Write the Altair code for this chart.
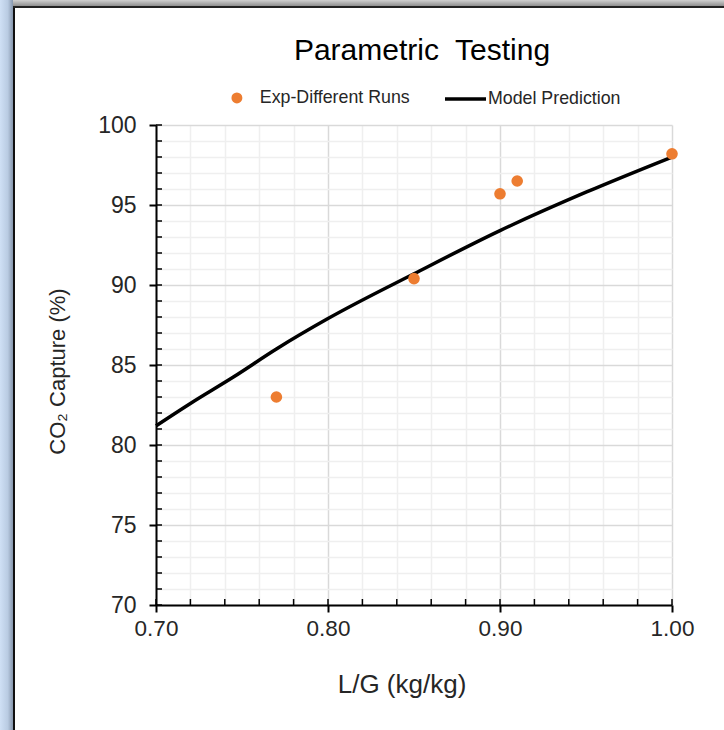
import altair as alt
import pandas as pd

# ---- data ----
exp_lg = [0.77, 0.85, 0.90, 0.91, 1.00]
exp_capture = [83.0, 90.4, 95.7, 96.5, 98.2]

model_lg = [0.70, 0.72, 0.745, 0.77, 0.80, 0.85, 0.90, 0.95, 1.00]
model_capture = [81.2, 82.6, 84.25, 86.0, 87.9, 90.7, 93.4, 95.8, 98.0]

x_ticks = [round(0.70 + 0.02 * i, 2) for i in range(16)]
y_ticks = list(range(70, 101))

exp_df = pd.DataFrame({"lg": exp_lg, "cap": exp_capture, "series": "Exp-Different Runs"})
model_df = pd.DataFrame({"lg": model_lg, "cap": model_capture, "series": "Model Prediction"})
xt_df = pd.DataFrame({"lg": x_ticks})
yt_df = pd.DataFrame({"cap": y_ticks})

FONT = "Liberation Sans"
W, H = 516, 480

xscale = alt.Scale(domain=[0.70, 1.00], nice=False, zero=False)
yscale = alt.Scale(domain=[70, 100], nice=False, zero=False)

x_major = "round(datum.value*100) % 10 === 0"
y_major = "datum.value % 5 === 0"

x_axis = alt.Axis(
    values=x_ticks, format=".2f",
    labelExpr=f"{x_major} ? datum.label : ''",
    labelOverlap=False, labelFlush=False, labelFontSize=22.5, labelFont=FONT,
    labelColor="#262626", labelPadding=5,
    grid=True,
    gridColor={"condition": {"test": x_major, "value": "#d9d9d9"}, "value": "#efefef"},
    gridWidth=1.5,
    tickColor={"condition": {"test": x_major, "value": "black"}, "value": "transparent"},
    tickSize=7, tickWidth=2,
    domainColor="black", domainWidth=2,
    title="L/G (kg/kg)", titleFontSize=26, titleFont=FONT, titleFontWeight="normal",
    titleColor="#262626",
    titleX=245.5, titleY=79, titleBaseline="middle",
)
y_axis = alt.Axis(
    values=y_ticks,
    labelExpr=f"{y_major} ? datum.label : ''",
    labelOverlap=False, labelFlush=False, labelFontSize=23, labelFont=FONT,
    labelColor="#262626", labelPadding=13,
    grid=True,
    gridColor={"condition": {"test": y_major, "value": "#d9d9d9"}, "value": "#efefef"},
    gridWidth=1.5,
    tickColor={"condition": {"test": y_major, "value": "black"}, "value": "transparent"},
    tickSize=7, tickWidth=2,
    domainColor="black", domainWidth=2,
    title="CO₂ Capture (%)", titleFontSize=22, titleFont=FONT, titleFontWeight="normal",
    titleColor="#262626",
    titleX=-99, titleY=246, titleBaseline="middle",
)

def X():
    return alt.X("lg:Q", scale=xscale, axis=x_axis)

def Y():
    return alt.Y("cap:Q", scale=yscale, axis=y_axis)

model_line = alt.Chart(model_df).mark_line(strokeWidth=3.5, interpolate="monotone").encode(
    x=X(), y=Y(),
    color=alt.Color("series:N",
                    scale=alt.Scale(domain=["Model Prediction"], range=["black"]),
                    legend=alt.Legend(title=None, orient="none", legendX=287, legendY=-48.5,
                                      symbolType="stroke", symbolSize=1681,
                                      symbolStrokeWidth=3.5, labelOffset=0,
                                      labelFontSize=17.8, labelFont=FONT,
                                      labelColor="#262626", padding=0)),
)

exp_pts = alt.Chart(exp_df).mark_circle(size=135, opacity=1).encode(
    x=X(), y=Y(),
    color=alt.Color("series:N",
                    scale=alt.Scale(domain=["Exp-Different Runs"], range=["#ED7D31"]),
                    legend=alt.Legend(title=None, orient="none", legendX=72, legendY=-36,
                                      symbolType="circle", symbolSize=120,
                                      labelOffset=14, labelFontSize=17.8, labelFont=FONT,
                                      labelColor="#262626", padding=0)),
)

# inside ticks
ytick_in = alt.Chart(yt_df).mark_rule(color="black", strokeWidth=1.5).encode(
    y=alt.Y("cap:Q", scale=yscale, axis=y_axis), x=alt.value(0), x2=alt.value(6)
)
xtick_in = alt.Chart(xt_df).mark_rule(color="black", strokeWidth=1.5).encode(
    x=alt.X("lg:Q", scale=xscale, axis=x_axis), y=alt.value(H), y2=alt.value(H - 6)
)

# window frame decoration
one = pd.DataFrame({"a": [0]})
left_strip = alt.Chart(one).mark_rect(
    color=alt.LinearGradient(gradient="linear", x1=0, x2=1, y1=0, y2=0,
                             stops=[alt.GradientStop(color="#cfe0f5", offset=0),
                                    alt.GradientStop(color="#b9cbe2", offset=0.6),
                                    alt.GradientStop(color="#8797ad", offset=1)])
).encode(x=alt.value(-156), x2=alt.value(-143), y=alt.value(-125), y2=alt.value(H + 125))
top_strip = alt.Chart(one).mark_rect(
    color=alt.LinearGradient(gradient="linear", x1=0, x2=0, y1=0, y2=1,
                             stops=[alt.GradientStop(color="#d0d0d0", offset=0),
                                    alt.GradientStop(color="#8f8f8f", offset=1)])
).encode(x=alt.value(-143), x2=alt.value(W + 52), y=alt.value(-125), y2=alt.value(-119))
left_line = alt.Chart(one).mark_rect(color="#111111").encode(
    x=alt.value(-143), x2=alt.value(-141), y=alt.value(-119), y2=alt.value(H + 125))
top_line = alt.Chart(one).mark_rect(color="#222222").encode(
    x=alt.value(-143), x2=alt.value(W + 52), y=alt.value(-119), y2=alt.value(-117))

chart = alt.layer(
    model_line, exp_pts, ytick_in, xtick_in,
    left_strip, top_strip, left_line, top_line,
).resolve_scale(color="independent").properties(
    width=W, height=H,
    autosize="none",
    padding={"left": 156, "top": 125, "right": 52, "bottom": 125},
    background="white",
    title=alt.TitleParams(text="Parametric\u00a0 Testing", fontSize=30, font=FONT,
                          fontWeight="normal", color="black", anchor="middle",
                          frame="group", baseline="alphabetic", offset=0, dy=90, dx=8),
).configure_view(stroke=None)

chart.save("out.html", embed_options={"renderer": "svg", "actions": False})
